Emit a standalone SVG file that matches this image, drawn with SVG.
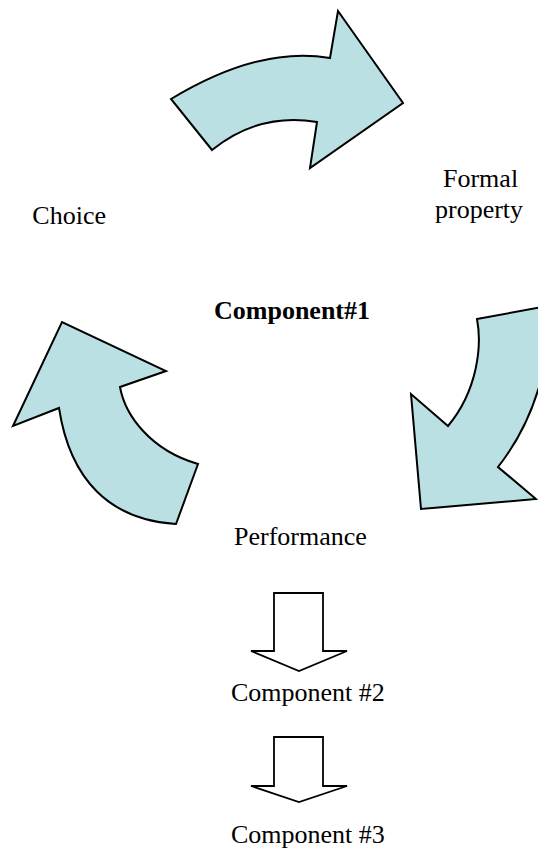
<svg xmlns="http://www.w3.org/2000/svg" width="538" height="849" viewBox="0 0 538 849">
  <style>
    .label { font-family: "Liberation Serif", "Times New Roman", serif; font-size: 26px; fill: #000; }
    .bold { font-weight: bold; }
    .curved { fill: #BBE0E3; stroke: #000; stroke-width: 2; stroke-linejoin: miter; }
    .block { fill: #fff; stroke: #000; stroke-width: 1.8; stroke-linejoin: miter; }
  </style>
  <rect width="538" height="849" fill="#fff"/>

  <!-- cycle arrows -->
  <g id="connectors">
    <!-- Choice -> Formal property -->
    <path id="arrow-top" class="curved" d="M171,99 Q259.5,45.5 330,58 L338,11 L403,103 L310,168 L317,122 Q259.5,112 212,150 Z"/>
    <!-- Formal property -> Performance -->
    <path id="arrow-right" class="curved" d="M477,319 L548,306 C552,360 535,420 498,467 L536,499 L421,509 L411,394 L448,426 C478,390 482,345 477,319 Z"/>
    <!-- Performance -> Choice -->
    <path id="arrow-left" class="curved" d="M176,524 C110,520 70,480 59,408 L13,426 L62,322 L166,371 L120,387 C125,415 150,450 198,464 Z"/>
    <!-- Performance -> Component #2 -->
    <path id="arrow-down-1" class="block" d="M274,593 L323,593 L323,651 L347,651 L299,671 L251,651 L274,651 Z"/>
    <!-- Component #2 -> Component #3 -->
    <path id="arrow-down-2" class="block" d="M274,737 L323,737 L323,786 L347,786 L299,802 L251,786 L274,786 Z"/>
  </g>

  <g id="node-choice">
    <text class="label" x="106" y="224" text-anchor="end">Choice</text>
  </g>
  <g id="node-formal-property">
    <text class="label" x="443" y="187">Formal</text>
    <text class="label" x="435" y="218">property</text>
  </g>
  <g id="node-component1">
    <text class="label bold" x="214" y="319">Component#1</text>
  </g>
  <g id="node-performance">
    <text class="label" x="234" y="545">Performance</text>
  </g>
  <g id="node-component2">
    <text class="label" x="231" y="701">Component #2</text>
  </g>
  <g id="node-component3">
    <text class="label" x="231" y="843">Component #3</text>
  </g>
</svg>
